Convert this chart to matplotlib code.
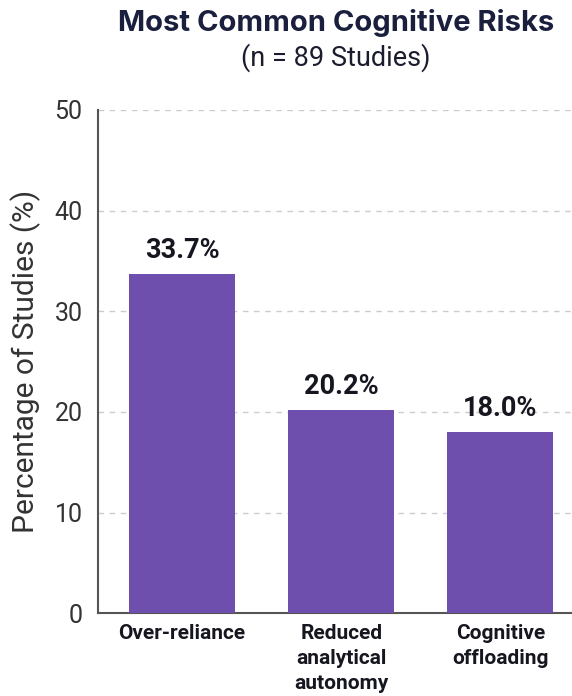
import matplotlib
matplotlib.use('Agg')
import matplotlib.pyplot as plt

plt.rcParams['font.family'] = ['Roboto', 'DejaVu Sans']

categories = ['Over-reliance', 'Reduced\nanalytical\nautonomy', 'Cognitive\noffloading']
values = [33.7, 20.2, 18.0]
yticks = [0, 10, 20, 30, 40, 50]

bar_color = '#6E4FAD'
text_dark = '#1b1d2e'

fig = plt.figure(figsize=(5.72, 6.96), dpi=100)
ax = fig.add_axes([0.171, 0.119, 0.829, 0.723])

x = range(len(categories))
ax.bar(x, values, width=0.667, color=bar_color, zorder=3)

# value labels above bars
for xi, v in zip(x, values):
    ax.text(xi, v + 1.0, f'{v:.1f}%', ha='center', va='bottom', fontsize=19.5,
            fontweight='bold', color='#15161f')

ax.set_xlim(-0.53, 2.45)
ax.set_ylim(0, 50)
ax.set_yticks(yticks)
ax.set_xticks(list(x))
ax.set_xticklabels(categories, fontsize=15, fontweight='bold', color='#15161f',
                   linespacing=1.4)
ax.tick_params(axis='y', labelsize=18, length=0, pad=11, labelcolor='#333333')
ax.tick_params(axis='x', length=0, pad=8)

ax.yaxis.grid(True, linestyle=(0, (4, 4)), color='#cccccc', linewidth=1, zorder=0)
ax.set_axisbelow(True)
for s in ['top', 'right']:
    ax.spines[s].set_visible(False)
ax.spines['left'].set_color('#555555')
ax.spines['bottom'].set_color('#555555')
ax.spines['left'].set_linewidth(1.5)
ax.spines['bottom'].set_linewidth(1.5)

ax.set_ylabel('Percentage of Studies (%)', fontsize=21.5, color='#333333', labelpad=10)

fig.text(0.587, 0.967, 'Most Common Cognitive Risks', ha='center', va='center',
         fontsize=21, fontweight='bold', color='#1a1f3d', family=['Inter', 'Roboto'])
fig.text(0.587, 0.917, '(n = 89 Studies)', ha='center', va='center',
         fontsize=19.5, color=text_dark)

fig.savefig('out.png', dpi=100)
